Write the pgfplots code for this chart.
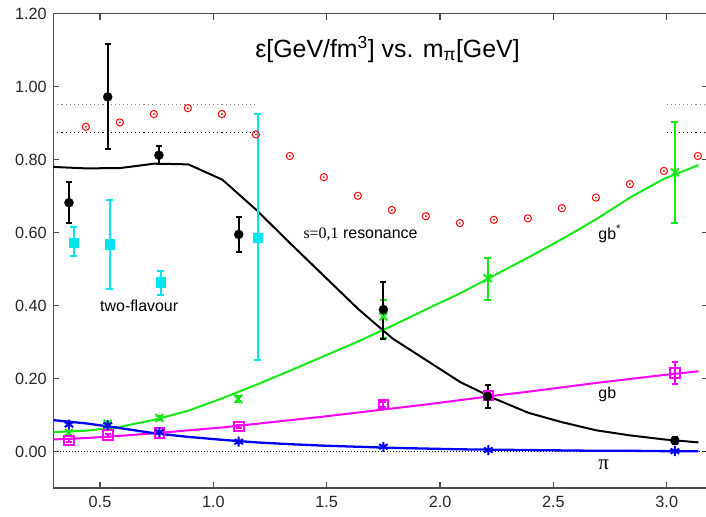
\documentclass[border=0pt]{standalone}
\usepackage{fontspec}
\setmainfont{Liberation Sans}
\newfontfamily\seriffont{Liberation Serif}
\usepackage{pgfplots}
\pgfplotsset{compat=1.18}
\definecolor{cy}{RGB}{0,230,240}
\definecolor{gr}{RGB}{20,235,20}
\definecolor{mg}{RGB}{255,0,255}
\definecolor{bl}{RGB}{0,0,255}
\begin{document}
\begin{tikzpicture}
\begin{axis}[
  name=ax,
  scale only axis,
  width=654.7bp, height=474.3bp,
  xmin=0.294, xmax=3.182, ymin=-0.1, ymax=1.2,
  xtick={0.5,1.0,1.5,2.0,2.5,3.0},
  ytick={0,0.2,0.4,0.6,0.8,1.0,1.2},
  tick align=inside,
  major tick length=6bp,
  axis line style={black!70, line width=1.2bp},
  every tick/.style={black!70, line width=1.2bp},
  tick label style={font=\fontsize{16.3}{18}\selectfont, color=black!85},
  /pgf/number format/assume math mode=true,
  xticklabel style={yshift=-5bp, /pgf/number format/.cd, fixed, fixed zerofill, precision=1},
  yticklabel style={xshift=-3bp, /pgf/number format/.cd, fixed, fixed zerofill, precision=2},
  clip=true,
]
% dotted reference lines
\addplot[gray, line width=1.1bp, dash pattern=on 1.1bp off 3bp] coordinates {(0.294,0.952) (1.19,0.952)};
\addplot[gray, line width=1.1bp, dash pattern=on 1.1bp off 3bp] coordinates {(3.0,0.952) (3.182,0.952)};
\addplot[black, line width=1.1bp, dash pattern=on 1.1bp off 3bp] coordinates {(0.294,0.875) (1.19,0.875)};
\addplot[black, line width=1.1bp, dash pattern=on 1.1bp off 3bp] coordinates {(3.0,0.875) (3.182,0.875)};
\addplot[black, line width=0.9bp, dash pattern=on 1bp off 2bp] coordinates {(0.31,0) (3.182,0)};
% red circles with dot
\addplot[red, only marks, mark=o, mark size=3.6bp, mark options={line width=1bp}] coordinates {
(0.4375,0.890) (0.5875,0.902) (0.7375,0.925) (0.8875,0.941) (1.0375,0.925) (1.1875,0.869)
(1.3375,0.810) (1.4875,0.752) (1.6375,0.701) (1.7875,0.662) (1.9375,0.645) (2.0875,0.626)
(2.2375,0.635) (2.3875,0.639) (2.5375,0.667) (2.6875,0.696) (2.8375,0.733) (2.9875,0.769) (3.1375,0.810)};
\addplot[red, only marks, mark=*, mark size=0.7bp] coordinates {
(0.4375,0.890) (0.5875,0.902) (0.7375,0.925) (0.8875,0.941) (1.0375,0.925) (1.1875,0.869)
(1.3375,0.810) (1.4875,0.752) (1.6375,0.701) (1.7875,0.662) (1.9375,0.645) (2.0875,0.626)
(2.2375,0.635) (2.3875,0.639) (2.5375,0.667) (2.6875,0.696) (2.8375,0.733) (2.9875,0.769) (3.1375,0.810)};
% curves
\addplot[black, line width=2bp] coordinates {
(0.294,0.780) (0.44,0.776) (0.59,0.777) (0.74,0.789) (0.89,0.787) (1.04,0.745) (1.19,0.662)
(1.34,0.570) (1.49,0.480) (1.64,0.390) (1.79,0.310) (1.94,0.250) (2.09,0.190) (2.24,0.145)
(2.39,0.106) (2.54,0.080) (2.69,0.058) (2.84,0.044) (2.99,0.033) (3.14,0.025)};
\addplot[gr, line width=2bp] coordinates {
(0.294,0.053) (0.44,0.057) (0.59,0.068) (0.74,0.087) (0.89,0.112) (1.04,0.146) (1.19,0.183)
(1.34,0.222) (1.49,0.262) (1.64,0.302) (1.79,0.345) (1.94,0.390) (2.09,0.434) (2.24,0.483)
(2.39,0.532) (2.54,0.583) (2.69,0.637) (2.84,0.697) (2.99,0.748) (3.14,0.785)};
\addplot[mg, line width=2bp] coordinates {
(0.294,0.033) (0.44,0.037) (0.59,0.043) (0.74,0.050) (0.89,0.058) (1.04,0.066) (1.19,0.076)
(1.34,0.086) (1.49,0.096) (1.64,0.107) (1.79,0.118) (1.94,0.129) (2.09,0.141) (2.24,0.153)
(2.39,0.164) (2.54,0.176) (2.69,0.188) (2.84,0.199) (2.99,0.210) (3.14,0.220)};
\addplot[bl, line width=2.3bp] coordinates {
(0.294,0.086) (0.44,0.077) (0.59,0.064) (0.74,0.050) (0.89,0.040) (1.04,0.032) (1.19,0.025)
(1.34,0.020) (1.49,0.016) (1.64,0.013) (1.79,0.010) (1.94,0.008) (2.09,0.006) (2.24,0.005)
(2.39,0.004) (2.54,0.003) (2.69,0.002) (2.84,0.002) (2.99,0.001) (3.14,0.001)};
% cyan two-flavour
\addplot[cy, only marks, mark=square*, mark size=4.6bp,
  error bars/.cd, y dir=both, y explicit,
  error bar style={line width=2bp, cy}, error mark options={cy, line width=2bp, mark size=3.5bp, rotate=90}] coordinates {
(0.385,0.572) += (0,0.042) -= (0,0.036)
(0.544,0.568) += (0,0.121) -= (0,0.122)
(0.768,0.464) += (0,0.032) -= (0,0.036)
(1.195,0.585) += (0,0.339) -= (0,0.335)};
% green gb*
\addplot[gr, only marks, mark=x, mark size=5.5bp, mark options={line width=2bp},
  error bars/.cd, y dir=both, y explicit,
  error bar style={line width=2bp, gr}, error mark options={gr, line width=2bp, mark size=3.5bp, rotate=90}] coordinates {
(0.363,0.051) +- (0,0.006)
(0.534,0.076) +- (0,0.006)
(0.762,0.092) +- (0,0.006)
(1.110,0.144) +- (0,0.008)
(1.750,0.370) += (0,0.044) -= (0,0.059)
(2.210,0.475) += (0,0.055) -= (0,0.059)
(3.036,0.765) += (0,0.137) -= (0,0.138)};
% magenta gb
\addplot[mg, only marks, mark=square, mark size=4.8bp, mark options={line width=2bp},
  error bars/.cd, y dir=both, y explicit,
  error bar style={line width=2bp, mg}, error mark options={mg, line width=2bp, mark size=3bp, rotate=90}] coordinates {
(0.363,0.030) +- (0,0.004)
(0.534,0.045) +- (0,0.004)
(0.762,0.051) +- (0,0.004)
(1.112,0.069) +- (0,0.004)
(1.750,0.129) +- (0,0.006)
(2.213,0.154) +- (0,0.006)
(3.036,0.215) += (0,0.030) -= (0,0.029)};
% blue pi
\addplot[bl, only marks, mark=asterisk, mark size=5bp, mark options={line width=2bp}] coordinates {
(0.363,0.074) (0.534,0.072) (0.762,0.053) (1.112,0.027) (1.750,0.013) (2.213,0.004) (3.036,0.001)};
% black resonance
\addplot[black, only marks, mark=*, mark size=4.5bp,
  error bars/.cd, y dir=both, y explicit,
  error bar style={line width=2bp, black}, error mark options={black, line width=2bp, mark size=3bp, rotate=90}] coordinates {
(0.363,0.682) += (0,0.058) -= (0,0.056)
(0.534,0.972) += (0,0.144) -= (0,0.143)
(0.760,0.812) += (0,0.025) -= (0,0.025)
(1.112,0.595) += (0,0.048) -= (0,0.049)
(1.750,0.389) += (0,0.076) -= (0,0.081)
(2.210,0.151) += (0,0.032) -= (0,0.033)
(3.036,0.030) += (0,0.010) -= (0,0.010)};
% labels
\node[anchor=base west, inner sep=0pt, font=\fontsize{25}{28}\selectfont] at (axis cs:1.184,1.081) {ε[GeV/fm\textsuperscript{3}] vs. m\textsubscript{π}[GeV]};
\node[anchor=base west, inner sep=0pt, font=\fontsize{16}{18}\selectfont] at (axis cs:0.5,0.383) {two-flavour};
\node[anchor=base west, inner sep=0pt, font=\fontsize{16}{18}\selectfont] at (axis cs:1.397,0.583) {{\seriffont s=0,1} resonance};
\node[anchor=base west, inner sep=0pt, font=\fontsize{16}{18}\selectfont] at (axis cs:2.698,0.582) {gb\textsuperscript{*}};
\node[anchor=base west, inner sep=0pt, font=\fontsize{16}{18}\selectfont] at (axis cs:2.698,0.144) {gb};
\node[anchor=base west, inner sep=0pt, font=\fontsize{21}{22}\selectfont\seriffont] at (axis cs:2.698,-0.049) {π};
\end{axis}
\pgfresetboundingbox
\path[use as bounding box] ([xshift=-53.3bp, yshift=-29bp]ax.south west) rectangle ([xshift=-2bp, yshift=13.7bp]ax.north east);
\end{tikzpicture}
\end{document}
